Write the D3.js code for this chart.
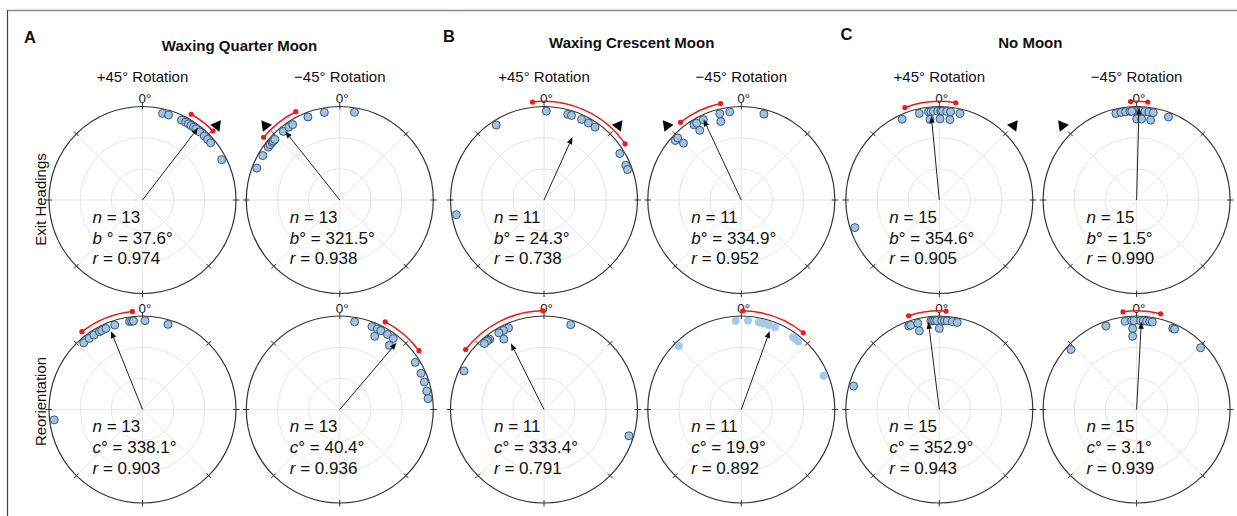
<!DOCTYPE html>
<html>
<head>
<meta charset="utf-8">
<script src="https://cdn.jsdelivr.net/npm/d3@7"></script>
<style>
  body { margin: 0; background: #fff; }
  svg { display: block; font-family: "Liberation Sans", Arial, Helvetica, sans-serif; }
</style>
</head>
<body>
<svg id="chart" width="1237" height="516"></svg>
<script>
// ---- Headers ----
const panelTitles = ["Waxing Quarter Moon", "Waxing Crescent Moon", "No Moon"];
const panelLetters = ["A", "B", "C"];
const rotationLabels = ["+45° Rotation", "\u221245° Rotation"];
const rowLabels = ["Exit Headings", "Reorientation"];
const meanSymbols = ["b", "c"];

// Expected heading after the +45° / −45° rotation (triangle markers on exit plots)
const rotationTargets = [45, 315];

// ---- Summary statistics, columns: A+45, A−45, B+45, B−45, C+45, C−45 ----
const nExit    = [13, 13, 11, 11, 15, 15];
const meanExit = [37.6, 321.5, 24.3, 334.9, 354.6, 1.5];
const rExit    = [0.974, 0.938, 0.738, 0.952, 0.905, 0.990];
const ciExit   = [8, 12, 31, 13, 15, 5];      // 95% CI half-width, degrees

const nReor    = [13, 13, 11, 11, 15, 15];
const meanReor = [338.1, 40.4, 333.4, 19.9, 352.9, 3.1];
const rReor    = [0.903, 0.936, 0.791, 0.892, 0.943, 0.939];
const ciReor   = [16, 13, 26, 19, 11, 11];

// ---- Individual headings: [degrees, stack index for coinciding headings] ----
const exitQuarterPlus  = [[13,0],[17,0],[26,0],[29,0],[31,0],[33,0],[35,0],[37,0],[40,0],[44,0],[47,0],[50,0],[63,0]];
const exitQuarterMinus = [[291,0],[300,0],[306.5,0],[308.5,0],[310.5,0],[311.5,0],[313,0],[320.5,0],[325,0],[328,0],[339,0],[350,0],[9.5,0]];
const exitCrescentPlus = [[260.5,0],[327.5,0],[1.5,0],[15.5,0],[18,0],[25,0],[30,0],[35,0],[58.5,0],[67,0],[70,0]];
const exitCrescentMinus= [[312,0],[314.3,0],[314.5,1],[327.8,0],[329.8,0],[329.2,1],[334.7,0],[346,0],[345.4,1],[352.5,0],[14.8,0]];
const exitNonePlus     = [[251.9,0],[335.3,0],[347,0],[353,0],[354.5,0],[356.2,0],[358.9,0],[1,0],[2.1,0],[4.7,0],[7.3,0],[13.4,0],[353.4,1],[0.5,1],[7.5,1]];
const exitNoneMinus    = [[346.5,0],[349.9,0],[352.9,0],[355.7,0],[358.3,0],[0.5,0],[2.5,0],[5.4,0],[8,0],[10.8,0],[21,0],[356.9,0],[0,1],[3.5,1],[10,1]];

const reorQuarterPlus  = [[263.3,0],[318.6,0],[323.1,0],[326.9,0],[331,0],[332.7,0],[335.7,0],[341.8,0],[351.6,0],[353,0],[354.2,0],[1.6,0],[16.7,0]];
const reorQuarterMinus = [[9.6,0],[21.2,0],[25,0],[25.5,1],[27.5,0],[32.4,0],[37,0],[37.7,1],[58,0],[66,0],[72,0],[78,0],[83,0]];
const reorCrescentPlus = [[336.5,0],[332.9,0],[329.5,0],[330.3,1],[322.3,0],[321,0],[319.9,0],[317.9,0],[295.7,0],[17.5,0],[107.2,0]];
const reorCrescentMinus= [[356.4,0],[4.3,0],[11.4,0],[14.4,0],[18,0],[22.3,0],[35.6,0],[37.5,0],[39.8,0],[315.5,0],[67.7,0]];
const reorNonePlus     = [[285.3,0],[339.9,0],[341.3,0],[346,0],[345.8,1],[354.5,0],[355.7,0],[357,0],[358.3,0],[0,1],[1.5,0],[3.3,0],[5.1,0],[8.4,0],[11.6,0]];
const reorNoneMinus    = [[312.4,0],[339.8,0],[352.6,0],[356.8,0],[358.3,0],[357.2,1],[356.9,2],[2.5,0],[4.3,0],[6.4,0],[8.5,0],[10.2,0],[24,0],[25.3,0],[46,0]];

const exitSets = [exitQuarterPlus, exitQuarterMinus, exitCrescentPlus, exitCrescentMinus, exitNonePlus, exitNoneMinus];
const reorSets = [reorQuarterPlus, reorQuarterMinus, reorCrescentPlus, reorCrescentMinus, reorNonePlus, reorNoneMinus];

// ---- Layout ----
const svg = d3.select("#chart");
const R = 93.5;
const panelX = [142.5, 544, 939.3];       // centre of the +45° plot in each panel
const plotGap = 197.3;                     // +45° to −45° plot spacing
const rowY = [200, 409.5];
const titleX = [239.5, 631.7, 1030.3];
const titleY = [51, 48, 48];
const letterPos = [[24, 42.7], [443, 41.7], [840.5, 40]];
const rowLabelY = [199.5, 401.5];

const angle = d3.scaleLinear().domain([0, 360]).range([0, 2 * Math.PI]);
const radius = d3.scaleLinear().domain([0, 1]).range([0, R]);

const dotR = 4;
const dotInset = 4.6;
const dotStep = 7.8;
const ciRadius = radius(1.055);

const colours = {
  axis: "#333",
  grid: "#e6e6e6",
  dot: "#9dc3e6",
  dotStroke: "#34475c",
  ci: "#f21818",
  text: "#111"
};

// Figure frame
svg.append("line").attr("x1", 7).attr("x2", 1237).attr("y1", 10.5).attr("y2", 10.5)
  .attr("stroke", "#8c8c8c").attr("stroke-width", 1.6);
svg.append("line").attr("x1", 7.5).attr("x2", 7.5).attr("y1", 10).attr("y2", 516)
  .attr("stroke", "#444").attr("stroke-width", 1.2);

// Panel letters and titles
panelTitles.forEach((t, i) => {
  svg.append("text").attr("x", letterPos[i][0]).attr("y", letterPos[i][1])
    .attr("font-size", 16.5).attr("font-weight", "bold").attr("fill", "#111").text(panelLetters[i]);
  svg.append("text").attr("x", titleX[i]).attr("y", titleY[i]).attr("text-anchor", "middle")
    .attr("font-size", 15).attr("font-weight", "bold").attr("fill", "#111").text(t);
  rotationLabels.forEach((lab, j) => {
    svg.append("text").attr("x", panelX[i] + j * plotGap).attr("y", 81.7)
      .attr("text-anchor", "middle").attr("font-size", 15).attr("fill", "#111").text(lab);
  });
});

// Row labels
rowLabels.forEach((lab, k) => {
  svg.append("text")
    .attr("transform", `translate(46,${rowLabelY[k]}) rotate(-90)`)
    .attr("text-anchor", "middle").attr("font-size", 15).attr("fill", "#111").text(lab);
});

const polar = (deg, rr) => d3.pointRadial(angle(deg), rr);

function drawPlot(g, dots, n, mean, r, ci, row, col) {
  // grid rings and spokes
  [1 / 3, 2 / 3].forEach(f => g.append("circle").attr("r", radius(f))
    .attr("fill", "none").attr("stroke", colours.grid).attr("stroke-width", 1));
  d3.range(0, 360, 45).forEach(d => {
    const [x, y] = polar(d, radius(1));
    g.append("line").attr("x1", 0).attr("y1", 0).attr("x2", x).attr("y2", y)
      .attr("stroke", colours.grid).attr("stroke-width", 1);
  });

  // outer circle and 45° ticks
  g.append("circle").attr("r", radius(1)).attr("fill", "none")
    .attr("stroke", colours.axis).attr("stroke-width", 1.2);
  d3.range(0, 360, 45).forEach(d => {
    const [x1, y1] = polar(d, radius(1) - 3);
    const [x2, y2] = polar(d, radius(1) + 3.5);
    g.append("line").attr("x1", x1).attr("y1", y1).attr("x2", x2).attr("y2", y2)
      .attr("stroke", colours.axis).attr("stroke-width", 1);
  });

  // 0° label
  g.append("text").attr("x", -4).attr("y", -radius(1) - 3.2)
    .attr("font-size", 13.5).attr("fill", "#222").text("0°");

  // individual headings
  const unstroked = (row === 1 && col === 3);
  g.selectAll("circle.dot").data(dots).join("circle")
    .attr("class", "dot")
    .attr("cx", d => polar(d[0], radius(1) - dotInset - d[1] * dotStep)[0])
    .attr("cy", d => polar(d[0], radius(1) - dotInset - d[1] * dotStep)[1])
    .attr("r", dotR)
    .attr("fill", unstroked ? "#a6c8ea" : colours.dot)
    .attr("stroke", unstroked ? "none" : colours.dotStroke)
    .attr("stroke-width", 0.9);

  // confidence interval arc
  const p = d3.path();
  p.arc(0, 0, ciRadius, angle(mean - ci) - Math.PI / 2, angle(mean + ci) - Math.PI / 2);
  g.append("path").attr("d", p.toString()).attr("fill", "none")
    .attr("stroke", colours.ci).attr("stroke-width", 1.5);
  [mean - ci, mean + ci].forEach(a => {
    const [x, y] = polar(a, ciRadius);
    g.append("circle").attr("cx", x).attr("cy", y).attr("r", 2.6).attr("fill", colours.ci);
  });

  // mean vector
  const len = radius(r);
  const [tx, ty] = polar(mean, len);
  const [bx, by] = polar(mean, len - 7);
  g.append("line").attr("x1", 0).attr("y1", 0).attr("x2", bx).attr("y2", by)
    .attr("stroke", "#222").attr("stroke-width", 1);
  const a = angle(mean);
  const px = Math.cos(a) * 2.8, py = Math.sin(a) * 2.8; // perpendicular offset
  g.append("path")
    .attr("d", `M${tx},${ty}L${bx + px},${by + py}L${bx - px},${by - py}Z`)
    .attr("fill", "#111");

  // rotation target marker on exit plots
  if (row === 0) {
    const target = rotationTargets[col % 2];
    const [mx, my] = polar(target, radius(1.125));
    g.append("path").attr("d", d3.symbol(d3.symbolTriangle, 58)())
      .attr("transform", `translate(${mx},${my}) rotate(${target < 180 ? -82 : 82})`)
      .attr("fill", "#000");
  }

  // statistics text
  const txt = g.append("g").attr("font-size", 17).attr("fill", colours.text);
  const l1 = txt.append("text").attr("x", -50).attr("y", 22.7);
  l1.append("tspan").attr("font-style", "italic").text("n");
  l1.append("tspan").text(` = ${n}`);
  const l2 = txt.append("text").attr("x", -50).attr("y", 43.6);
  l2.append("tspan").attr("font-style", "italic").text(meanSymbols[row]);
  const gap = (row === 0 && col === 0) ? " " : "";
  l2.append("tspan").text(`${gap}° = ${mean.toFixed(1)}°`);
  const l3 = txt.append("text").attr("x", -50).attr("y", 64.3);
  l3.append("tspan").attr("font-style", "italic").text("r");
  l3.append("tspan").text(` = ${r.toFixed(3)}`);
}

for (let col = 0; col < 6; col++) {
  const cx = panelX[Math.floor(col / 2)] + (col % 2) * plotGap;
  drawPlot(svg.append("g").attr("transform", `translate(${cx},${rowY[0]})`),
    exitSets[col], nExit[col], meanExit[col], rExit[col], ciExit[col], 0, col);
  drawPlot(svg.append("g").attr("transform", `translate(${cx},${rowY[1]})`),
    reorSets[col], nReor[col], meanReor[col], rReor[col], ciReor[col], 1, col);
}
</script>
</body>
</html>
